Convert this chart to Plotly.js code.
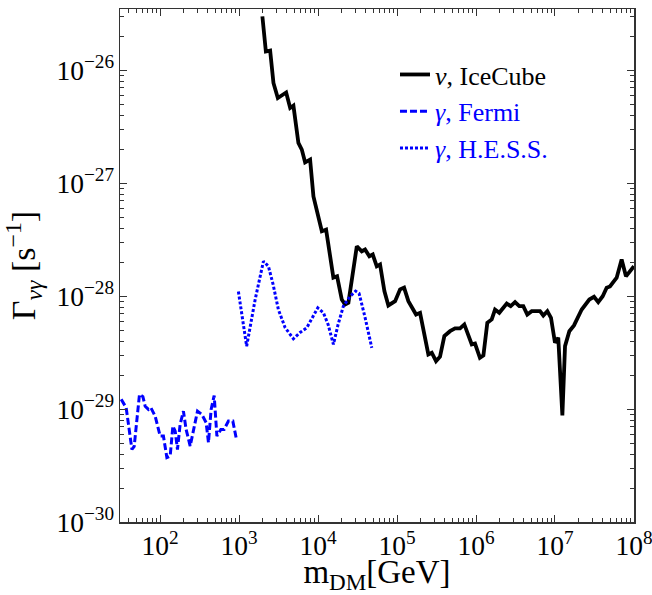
<!DOCTYPE html>
<html>
<head>
<meta charset="utf-8">
<script src="https://cdn.plot.ly/plotly-3.0.1.min.js"></script>
<style>html,body{margin:0;padding:0;background:#fff;}</style>
</head>
<body>
<div id="chart" style="width:652px;height:595px;"></div>
<script>
// IceCube (nu) limit
const iceX = [1970, 2180, 2470, 2720, 3090, 3940, 4430, 4870, 5630, 6220, 6850, 7920, 8730, 11150, 12630, 15620, 17400, 19950, 21980, 24200, 30920, 35730, 39350, 44590, 49230, 55300, 60900, 69100, 77600, 94400, 109200, 122700, 139100, 174000, 195500, 249000, 275000, 311700, 350000, 397000, 469000, 542000, 627000, 711000, 883000, 971000, 1.12e6, 1.24e6, 1.39e6, 1.58e6, 1.74e6, 1.97e6, 2.45e6, 2.75e6, 3.12e6, 3.53e6, 3.97e6, 4.46e6, 5.07e6, 6.46e6, 7.11e6, 8.0e6, 8.9e6, 1.0e7, 1.10e7, 1.24e7, 1.34e7, 1.52e7, 1.74e7, 2.18e7, 2.72e7, 3.12e7, 3.53e7, 4.02e7, 4.51e7, 4.97e7, 6.04e7, 6.98e7, 7.92e7, 1.0e8];
const iceY = [3.01e-26, 1.47e-26, 1.50e-26, 7.74e-27, 5.70e-27, 6.38e-27, 4.65e-27, 4.87e-27, 2.28e-27, 1.99e-27, 1.53e-27, 1.62e-27, 7.67e-28, 3.76e-28, 3.89e-28, 1.46e-28, 1.50e-28, 9.35e-29, 8.45e-29, 8.75e-29, 2.77e-28, 2.50e-28, 2.59e-28, 2.26e-28, 2.34e-28, 1.84e-28, 1.91e-28, 1.11e-28, 8.28e-29, 9.04e-29, 1.15e-28, 1.19e-28, 9.04e-29, 6.89e-29, 7.13e-29, 3.05e-29, 3.16e-29, 2.66e-29, 2.91e-29, 4.43e-29, 4.90e-29, 5.18e-29, 5.18e-29, 5.62e-29, 3.74e-29, 3.81e-29, 2.85e-29, 2.99e-29, 5.82e-29, 6.23e-29, 7.62e-29, 7.13e-29, 8.61e-29, 8.16e-29, 8.85e-29, 8.16e-29, 8.16e-29, 6.89e-29, 7.37e-29, 7.37e-29, 6.75e-29, 7.37e-29, 6.44e-29, 3.87e-29, 4.29e-29, 8.8e-30, 3.61e-29, 4.90e-29, 5.51e-29, 7.62e-29, 9.35e-29, 9.88e-29, 8.85e-29, 1.0e-28, 1.19e-28, 1.22e-28, 1.46e-28, 2.11e-28, 1.50e-28, 1.84e-28];

// Fermi (gamma) limit
const fermiX = [32.1, 37.1, 43.9, 46.9, 54.7, 60.4, 64.6, 71.1, 76.2, 86.4, 100, 110, 121.6, 133.9, 144.9, 155, 165.6, 179, 197, 213, 240, 264, 297, 337, 382, 409, 442, 483, 523, 587, 646, 732, 832, 916];
const fermiY = [1.22e-29, 1.03e-29, 4.39e-30, 4.68e-30, 1.35e-29, 1.29e-29, 1.06e-29, 9.93e-30, 1.03e-29, 8.67e-30, 5.77e-30, 5.77e-30, 3.72e-30, 3.84e-30, 7.08e-30, 6.39e-30, 4.39e-30, 7.33e-30, 9.59e-30, 6.61e-30, 4.71e-30, 6.61e-30, 9.59e-30, 8.97e-30, 7.59e-30, 5.05e-30, 9.93e-30, 1.32e-29, 5.77e-30, 6.61e-30, 6.61e-30, 7.83e-30, 7.83e-30, 5.58e-30];

// H.E.S.S. (gamma) limit
const hessX = [979, 1245, 1596, 2032, 2350, 2694, 3141, 3816, 4866, 5914, 7190, 8394, 9910, 11670, 13390, 15630, 17920, 20900, 25400, 29840, 33040, 39350, 47850];
const hessY = [1.10e-28, 3.61e-29, 9.35e-29, 2.04e-28, 1.84e-28, 1.27e-28, 7.62e-29, 5.28e-29, 4.20e-29, 4.77e-29, 5.25e-29, 6.48e-29, 7.89e-29, 7.13e-29, 5.62e-29, 3.74e-29, 5.62e-29, 8.16e-29, 9.93e-29, 1.11e-28, 1.06e-28, 6.48e-29, 3.49e-29];

const seriesNames = [
  '<i>ν</i>, IceCube',
  '<span style="color:#0000ff"><i>γ</i>, Fermi</span>',
  '<span style="color:#0000ff"><i>γ</i>, H.E.S.S.</span>'
];

const serif = 'Liberation Serif, DejaVu Serif, serif';

const traces = [
  {x: iceX, y: iceY, mode: 'lines', name: seriesNames[0],
   line: {color: '#000000', width: 3.8}},
  {x: fermiX, y: fermiY, mode: 'lines', name: seriesNames[1],
   line: {color: '#0000ff', width: 3, dash: '7px,3px'}},
  {x: hessX, y: hessY, mode: 'lines', name: seriesNames[2],
   line: {color: '#0000ff', width: 3, dash: '3px,2px'}}
];

const axisCommon = {
  type: 'log',
  showgrid: false,
  zeroline: false,
  showline: true,
  linecolor: '#333',
  linewidth: 1.5,
  mirror: 'ticks',
  ticks: 'inside',
  ticklen: 7,
  tickwidth: 1,
  tickcolor: '#333',
  dtick: 1,
  exponentformat: 'power',
  ticklabeloverflow: 'allow',
  tickfont: {family: serif, size: 22, color: '#000'},
  minor: {ticks: 'inside', ticklen: 4, tickwidth: 1, tickcolor: '#333', dtick: 'D1'}
};

const layout = {
  width: 652,
  height: 595,
  margin: {l: 120, r: 18, t: 9, b: 73},
  paper_bgcolor: '#fff',
  plot_bgcolor: '#fff',
  showlegend: true,
  legend: {
    x: 0.535, y: 0.918, xanchor: 'left', yanchor: 'top',
    bgcolor: 'rgba(0,0,0,0)',
    font: {family: serif, size: 26, color: '#000'},
    tracegroupgap: 0
  },
  xaxis: Object.assign({}, axisCommon, {
    range: [Math.log10(31), 8.0005],
    title: {text: 'm<sub>DM</sub>[GeV]', font: {family: serif, size: 33, color: '#000'}, standoff: 11}
  }),
  yaxis: Object.assign({}, axisCommon, {
    range: [-30, Math.log10(3.5e-26)],
    title: {text: 'Γ<sub><i>νγ</i></sub> [s<sup>−1</sup>]', font: {family: serif, size: 34, color: '#000'}, standoff: 10}
  })
};

Plotly.newPlot('chart', traces, layout, {displayModeBar: false, staticPlot: true});
</script>
</body>
</html>
